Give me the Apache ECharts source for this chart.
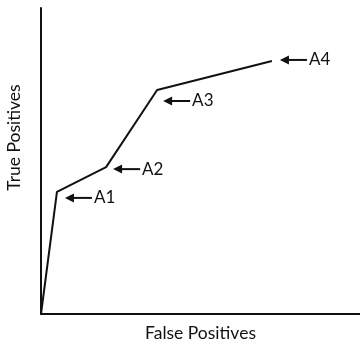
<!DOCTYPE html>
<html><head><meta charset="utf-8">
<script src="https://cdn.jsdelivr.net/npm/echarts@6/dist/echarts.min.js"></script>
<style>html,body{margin:0;padding:0;background:#fff}#c{width:360px;height:343px}</style>
</head><body><div id="c"></div>
<script>
const falsePositives = [0, 5.0, 20.4, 36.4, 72.4];
const truePositives = [0, 39.9, 48.0, 73.2, 82.7];
const pointLabels = ['', 'A1', 'A2', 'A3', 'A4'];
const xAxisTitle = 'False Positives';
const yAxisTitle = 'True Positives';

// annotation arrow tip offsets (px) relative to each labelled point
const arrowOffsets = [null, [8, 6], [7, 2], [6, 11], [8, -1]];

const lineData = falsePositives.map((x, i) => [x, truePositives[i]]);
const annData = [];
for (let i = 0; i < pointLabels.length; i++) {
  if (pointLabels[i]) annData.push([falsePositives[i], truePositives[i], i]);
}
const ink = '#111';
const chart = echarts.init(document.getElementById('c'));
const axisCommon = {
  type: 'value', min: 0, max: 100,
  axisLine: { show: true, lineStyle: { color: ink, width: 2 } },
  axisTick: { show: false }, axisLabel: { show: false }, splitLine: { show: false },
  nameLocation: 'middle'
};
chart.setOption({
  animation: false,
  grid: { left: 41, right: 0, top: 8, bottom: 29, containLabel: false, outerBoundsMode: 'none' },
  xAxis: Object.assign({}, axisCommon, { name: xAxisTitle, nameGap: 10,
    nameTextStyle: { color: ink, fontSize: 17.5, fontFamily: 'Lato' } }),
  yAxis: Object.assign({}, axisCommon, { name: yAxisTitle, nameGap: 18,
    nameTextStyle: { color: ink, fontSize: 17.5, fontFamily: 'Lato', padding: [0, 0, 0, 47] } }),
  series: [
    { type: 'line', data: lineData, symbol: 'none', lineStyle: { color: ink, width: 2 }, clip: false },
    { type: 'custom', data: annData, clip: false,
      renderItem: function (params, api) {
        const p = api.coord([api.value(0), api.value(1)]);
        const idx = api.value(2);
        const o = arrowOffsets[idx];
        const tx = p[0] + o[0], ty = p[1] + o[1];
        return { type: 'group', children: [
          { type: 'polygon', shape: { points: [[tx, ty], [tx + 9, ty - 4.5], [tx + 9, ty + 4.5]] }, style: { fill: ink } },
          { type: 'line', shape: { x1: tx + 8, y1: ty, x2: tx + 27, y2: ty }, style: { stroke: ink, lineWidth: 2 } },
          { type: 'text', x: tx + 29, y: ty, style: { text: pointLabels[idx], fill: ink, font: '17px Lato', verticalAlign: 'middle', align: 'left' } }
        ]};
      }
    }
  ]
});
</script></body></html>
